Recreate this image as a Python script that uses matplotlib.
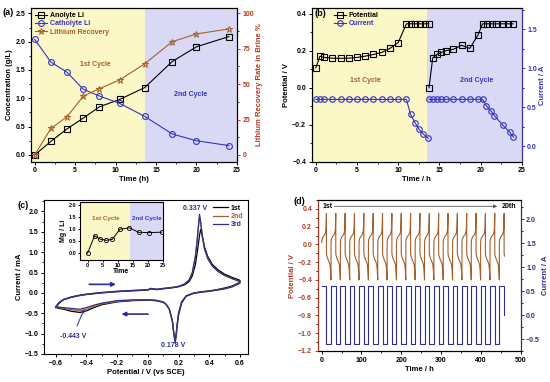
import matplotlib
matplotlib.use('Agg')
import matplotlib.pyplot as plt
from matplotlib.ticker import MultipleLocator, AutoMinorLocator

plt.rcParams['font.family'] = ['Liberation Sans', 'DejaVu Sans']
plt.rcParams['font.weight'] = 'bold'
plt.rcParams['axes.labelweight'] = 'bold'
plt.rcParams['axes.linewidth'] = 0.8
for ax_ in ('xtick', 'ytick'):
    plt.rcParams[ax_ + '.major.width'] = 0.7
    plt.rcParams[ax_ + '.minor.width'] = 0.6
    plt.rcParams[ax_ + '.major.size'] = 2.5
    plt.rcParams[ax_ + '.minor.size'] = 1.5
    plt.rcParams[ax_ + '.labelsize'] = 5
    plt.rcParams[ax_ + '.major.pad'] = 1.5
plt.rcParams['axes.labelsize'] = 5.5
plt.rcParams['axes.labelpad'] = 1.5

# ---------------- data (a) ----------------
t_a = [0, 2, 4, 6, 8, 10.5, 13.6, 17, 20, 24]
anolyte_li = [0.0, 0.24, 0.46, 0.65, 0.85, 0.98, 1.19, 1.65, 1.91, 2.09]
catholyte_li = [2.04, 1.64, 1.46, 1.16, 1.04, 0.91, 0.68, 0.37, 0.25, 0.165]
li_recovery = [0, 18.7, 27, 41.5, 46.8, 53, 64.4, 80, 85.5, 89]
split_a = 13.6

# ---------------- data (b) ----------------
t_pot1 = [0, 0.5, 1, 2, 3, 4, 5, 6, 7, 8, 9, 10, 11, 11.55, 12.1, 12.65, 13.2, 13.7]
pot1 = [0.108, 0.171, 0.164, 0.160, 0.159, 0.160, 0.164, 0.171, 0.180, 0.191,
        0.213, 0.244, 0.346, 0.346, 0.346, 0.346, 0.346, 0.346]
t_pot2 = [13.75, 14.2, 14.75, 15.25, 15.75, 16.7, 17.7, 18.7, 19.7, 20.25,
          20.8, 21.35, 21.85, 22.75, 23.35, 23.95]
pot2 = [0.0, 0.162, 0.182, 0.191, 0.200, 0.208, 0.230, 0.213, 0.286, 0.346,
        0.346, 0.346, 0.346, 0.346, 0.346, 0.346]
t_cur1 = [0, 0.5, 1, 2, 3, 4, 5, 6, 7, 8, 9, 10, 11, 11.5, 12.05, 12.5, 13.0, 13.65]
cur1 = [0.6, 0.6, 0.6, 0.6, 0.6, 0.6, 0.6, 0.6, 0.6, 0.6, 0.6, 0.6, 0.6,
        0.41, 0.30, 0.22, 0.16, 0.10]
t_cur2 = [13.75, 14.2, 14.75, 15.25, 15.75, 16.7, 17.7, 18.7, 19.7, 20.25,
          20.7, 21.25, 21.7, 22.7, 23.55, 24.0]
cur2 = [0.6, 0.6, 0.6, 0.6, 0.6, 0.6, 0.6, 0.6, 0.6, 0.6,
        0.52, 0.455, 0.39, 0.27, 0.18, 0.116]
split_b = 13.55

# ---------------- data (c) ----------------
v_fwd = [-0.60, -0.58, -0.55, -0.50, -0.45, -0.40, -0.30, -0.20, -0.10, 0.00,
         0.02, 0.04, 0.06, 0.10, 0.15, 0.20, 0.24, 0.27, 0.29, 0.31, 0.32, 0.33,
         0.337, 0.345, 0.355, 0.37, 0.39, 0.42, 0.46, 0.50, 0.55, 0.60]
i_fwd_1 = [-0.36, -0.26, -0.17, -0.11, -0.07, -0.04, 0.00, 0.03, 0.05, 0.07,
           0.10, 0.09, 0.08, 0.10, 0.12, 0.15, 0.20, 0.28, 0.42, 0.70, 0.95, 1.22,
           1.42, 1.56, 1.40, 1.12, 0.90, 0.70, 0.56, 0.46, 0.38, 0.31]
i_fwd_2 = [-0.34, -0.24, -0.16, -0.10, -0.06, -0.03, 0.01, 0.04, 0.06, 0.08,
           0.11, 0.10, 0.09, 0.11, 0.13, 0.16, 0.22, 0.32, 0.50, 0.88, 1.22, 1.62,
           1.88, 1.70, 1.38, 1.07, 0.85, 0.66, 0.52, 0.43, 0.35, 0.28]
i_fwd_3 = [-0.34, -0.24, -0.16, -0.10, -0.06, -0.03, 0.01, 0.04, 0.06, 0.08,
           0.11, 0.10, 0.09, 0.11, 0.13, 0.16, 0.22, 0.32, 0.50, 0.90, 1.25, 1.65,
           1.93, 1.72, 1.40, 1.08, 0.85, 0.66, 0.52, 0.43, 0.35, 0.28]
v_rev = [0.60, 0.55, 0.50, 0.45, 0.40, 0.35, 0.30, 0.25, 0.22, 0.20, 0.19, 0.185,
         0.178, 0.17, 0.16, 0.14, 0.12, 0.10, 0.05, 0.00, -0.10, -0.20, -0.30,
         -0.35, -0.40, -0.443, -0.50, -0.55, -0.58, -0.60]
i_rev_1 = [0.26, 0.17, 0.12, 0.08, 0.05, 0.03, 0.00, -0.07, -0.22, -0.50, -0.80, -1.00,
           -1.18, -1.00, -0.68, -0.40, -0.29, -0.23, -0.19, -0.18, -0.19, -0.22, -0.29,
           -0.36, -0.44, -0.48, -0.45, -0.40, -0.38, -0.36]
i_rev_2 = [0.24, 0.15, 0.10, 0.07, 0.04, 0.02, -0.01, -0.08, -0.25, -0.55, -0.85, -1.05,
           -1.22, -1.02, -0.70, -0.40, -0.28, -0.22, -0.18, -0.17, -0.18, -0.21, -0.27,
           -0.33, -0.40, -0.44, -0.41, -0.38, -0.36, -0.35]
i_rev_3 = [0.24, 0.15, 0.10, 0.07, 0.04, 0.02, -0.01, -0.08, -0.25, -0.55, -0.85, -1.05,
           -1.23, -1.02, -0.70, -0.40, -0.28, -0.22, -0.18, -0.17, -0.17, -0.19, -0.25,
           -0.30, -0.36, -0.40, -0.38, -0.36, -0.35, -0.34]
cv_labels = ['1st', '2nd', '3rd']
t_inset = [0, 2.3, 4.2, 6.2, 8.2, 10.7, 13.8, 17, 20.3, 24.5]
mg_li = [0.0, 0.73, 0.59, 0.54, 0.58, 1.0, 1.06, 0.87, 0.86, 0.88]
split_inset = 13.9

# ---------------- data (d) ----------------
cycle_starts = [0, 23.5, 47.0, 70.5, 94.0, 117.5, 141.0, 164.5, 188.0, 211.5,
                235.0, 258.5, 282.0, 305.5, 329.0, 352.5, 376.0, 399.5, 423.0, 446.5]
pot_t_off = [0.0, 1.0, 4.0, 8.0, 10.0, 11.0, 11.8, 12.0, 12.0, 13.0, 16.0, 19.0,
             21.0, 22.0, 23.0, 23.5]
pot_v = [0.02, 0.06, 0.09, 0.11, 0.14, 0.18, 0.30, 0.35, -0.10, -0.13, -0.17, -0.20,
         -0.23, -0.28, -0.36, -0.40]
cur_t_off = [0.0, 12.0, 12.0, 23.5]
cur_v = [0.6, 0.6, -0.6, -0.6]
n_last_pot = 10   # last cycle is cut after the first discharge step
last_cur_end = 0.0

YEL = '#fcf7c6'
LAV = '#d9d9f6'
BLUE = '#3434c0'
BROWN = '#a5602c'
RED = '#b03c28'
NAVY = '#2e2e8e'

fig = plt.figure(figsize=(5.5, 3.82), dpi=100)

# ================= (a) =================
ax = fig.add_axes([0.0558, 0.5767, 0.375, 0.4016])
ax.set_xlim(-0.5, 25)
ax.set_ylim(-0.12, 2.59)
ax.axvspan(-0.5, split_a, color=YEL, lw=0, zorder=0)
ax.axvspan(split_a, 25, color=LAV, lw=0, zorder=0)
l1, = ax.plot(t_a, anolyte_li, '-s', color='black', mfc='none', ms=3.8, lw=0.8, mew=0.8,
              label='Anolyte Li')
l2, = ax.plot(t_a, catholyte_li, '-o', color=BLUE, mfc='none', ms=4.2, lw=0.8, mew=0.8,
              label='Catholyte Li')
ax2 = ax.twinx()
ax2.set_ylim(-0.12 * 40, 2.59 * 40)
l3, = ax2.plot(t_a, li_recovery, '-*', color=BROWN, mfc='none', ms=5, lw=0.8, mew=0.7,
               label='Lithium Recovery')
ax.xaxis.set_major_locator(MultipleLocator(5))
ax.xaxis.set_minor_locator(AutoMinorLocator(2))
ax.yaxis.set_major_locator(MultipleLocator(0.5))
ax.yaxis.set_minor_locator(AutoMinorLocator(2))
ax2.yaxis.set_major_locator(MultipleLocator(25))
ax2.yaxis.set_minor_locator(AutoMinorLocator(2))
ax2.tick_params(axis='y', colors=RED)
ax.set_xlabel('Time (h)')
ax.set_ylabel('Concentration (g/L)')
ax2.set_ylabel('Lithium Recovery Rate in Brine %', color=RED)
leg = ax.legend(handles=[l1, l2, l3], loc='upper left', frameon=False, fontsize=5,
                handlelength=1.8, labelspacing=0.15, borderaxespad=0.2, handletextpad=0.4)
for txt, c in zip(leg.get_texts(), ['black', BLUE, BROWN]):
    txt.set_color(c)
ax.text(7.5, 1.6, '1st Cycle', color=BROWN, fontsize=5, ha='center', va='center')
ax.text(19.3, 1.07, '2nd Cycle', color=BLUE, fontsize=5, ha='center', va='center')
fig.text(0.004, 0.966, '(a)', fontsize=6.5, fontweight='bold', va='center')

# ================= (b) =================
bx = fig.add_axes([0.5667, 0.5767, 0.3818, 0.4016])
bx.set_xlim(-0.5, 25)
bx.set_ylim(-0.4, 0.43)
bx.axvspan(-0.5, split_b, color=YEL, lw=0, zorder=0)
bx.axvspan(split_b, 25, color=LAV, lw=0, zorder=0)
p1, = bx.plot(t_pot1, pot1, '-s', color='black', mfc='none', ms=3.8, lw=0.8, mew=0.8,
              label='Potential')
bx.plot(t_pot2, pot2, '-s', color='black', mfc='none', ms=3.8, lw=0.8, mew=0.8)
bx2 = bx.twinx()
bx2.set_ylim(-0.2, 1.77)
c1, = bx2.plot(t_cur1, cur1, '-o', color=BLUE, mfc='none', ms=4, lw=0.8, mew=0.8,
               label='Current')
bx2.plot(t_cur2, cur2, '-o', color=BLUE, mfc='none', ms=4, lw=0.8, mew=0.8)
bx.xaxis.set_major_locator(MultipleLocator(5))
bx.xaxis.set_minor_locator(AutoMinorLocator(2))
bx.yaxis.set_major_locator(MultipleLocator(0.2))
bx.yaxis.set_minor_locator(AutoMinorLocator(2))
bx2.yaxis.set_major_locator(MultipleLocator(0.5))
bx2.yaxis.set_minor_locator(AutoMinorLocator(2))
bx2.tick_params(axis='y', colors=BLUE)
bx2.spines['right'].set_color(BLUE)
bx.set_xlabel('Time / h')
bx.set_ylabel('Potential / V')
bx2.set_ylabel('Current / A', color=BLUE)
leg = bx.legend(handles=[p1, c1], loc='upper left', frameon=False, fontsize=5,
                handlelength=1.8, labelspacing=0.15, borderaxespad=0.2, handletextpad=0.4,
                bbox_to_anchor=(0.085, 1.0))
for txt, c in zip(leg.get_texts(), ['black', BLUE]):
    txt.set_color(c)
bx.text(6, 0.04, '1st Cycle', color=BROWN, fontsize=5, ha='center', va='center')
bx.text(19.5, 0.04, '2nd Cycle', color=BLUE, fontsize=5, ha='center', va='center')
bx.text(0.015, 0.965, '(b)', transform=bx.transAxes, fontsize=6.5, fontweight='bold',
        va='center')

# ================= (c) =================
cx = fig.add_axes([0.0805, 0.0733, 0.371, 0.403])
cx.set_xlim(-0.675, 0.655)
cx.set_ylim(-1.5, 2.28)
cv_colors = ['black', BROWN, NAVY]
for vf, ifw, irv, col, lab in zip([v_fwd] * 3, [i_fwd_1, i_fwd_2, i_fwd_3],
                                   [i_rev_1, i_rev_2, i_rev_3], cv_colors, cv_labels):
    cx.plot(list(vf) + list(v_rev), list(ifw) + list(irv), color=col, lw=0.9, label=lab)
cx.xaxis.set_major_locator(MultipleLocator(0.2))
cx.xaxis.set_minor_locator(AutoMinorLocator(2))
cx.yaxis.set_major_locator(MultipleLocator(0.5))
cx.yaxis.set_minor_locator(AutoMinorLocator(2))
cx.set_xlabel('Potential / V (vs SCE)')
cx.set_ylabel('Current / mA')
leg = cx.legend(loc='upper right', frameon=False, fontsize=5, handlelength=2.2,
                labelspacing=0.15, borderaxespad=0.3, handletextpad=0.4)
for txt, c in zip(leg.get_texts(), cv_colors):
    txt.set_color(c)
cx.text(0.307, 2.08, '0.337 V', color=NAVY, fontsize=5, ha='center', va='center')
cx.text(0.165, -1.3, '0.178 V', color=NAVY, fontsize=5, ha='center', va='center')
cx.annotate('-0.443 V', xy=(-0.415, -0.40), xytext=(-0.49, -1.06), color=NAVY, fontsize=5,
            ha='center', va='center',
            arrowprops=dict(arrowstyle='->', color=NAVY, lw=0.7, shrinkA=3, shrinkB=0))
cx.annotate('', xy=(-0.19, 0.21), xytext=(-0.40, 0.21),
            arrowprops=dict(arrowstyle='-|>', color=NAVY, lw=1.2, mutation_scale=6))
cx.annotate('', xy=(-0.19, -0.52), xytext=(0.02, -0.52),
            arrowprops=dict(arrowstyle='-|>', color=NAVY, lw=1.2, mutation_scale=6))
fig.text(0.031, 0.463, '(c)', fontsize=6.5, fontweight='bold', va='center')

ix = fig.add_axes([0.1455, 0.3194, 0.151, 0.152])
ix.set_xlim(-2.5, 25)
ix.set_ylim(-0.28, 2.14)
ix.axvspan(-2.5, split_inset, color=YEL, lw=0, zorder=0)
ix.axvspan(split_inset, 25, color=LAV, lw=0, zorder=0)
ix.plot(t_inset, mg_li, '-o', color='black', mfc='none', ms=3, lw=0.7, mew=0.6)
ix.xaxis.set_major_locator(MultipleLocator(5))
ix.yaxis.set_major_locator(MultipleLocator(0.5))
ix.tick_params(labelsize=4, length=1.5, pad=1)
ix.set_xlabel('Time', fontsize=5, labelpad=0)
ix.set_ylabel('Mg / Li', fontsize=5, labelpad=1)
ix.text(6.2, 1.45, '1st Cycle', color=BROWN, fontsize=4.5, ha='center', va='center')
ix.text(19.6, 1.45, '2nd Cycle', color=BLUE, fontsize=4.5, ha='center', va='center')

# ================= (d) =================
dx = fig.add_axes([0.5776, 0.0812, 0.369, 0.395])
dx.set_xlim(-10, 500)
dx.set_ylim(-1.2, 0.5)
dx2 = dx.twinx()
dx2.set_ylim(-0.75, 2.4)
pt, pv, ct, cv = [], [], [], []
for k, s in enumerate(cycle_starts):
    last = (k == len(cycle_starts) - 1)
    n = n_last_pot if last else len(pot_t_off)
    pt += [s + o for o in pot_t_off[:n]]
    pv += pot_v[:n]
    if last:
        ct += [s, s + cur_t_off[1], s + cur_t_off[1]]
        cv += [cur_v[0], cur_v[1], last_cur_end]
    else:
        ct += [s + o for o in cur_t_off]
        cv += cur_v
dx.plot(pt, pv, color=BROWN, lw=0.8)
dx2.plot(ct, cv, color=NAVY, lw=0.8)
dx.annotate('', xy=(448, 0.43), xytext=(25, 0.43),
            arrowprops=dict(arrowstyle='-|>', color='#555555', lw=0.6, mutation_scale=5))
dx.text(2, 0.43, '1st', fontsize=5, ha='left', va='center')
dx.text(452, 0.43, '20th', fontsize=5, ha='left', va='center')
dx.xaxis.set_major_locator(MultipleLocator(100))
dx.xaxis.set_minor_locator(AutoMinorLocator(2))
dx.yaxis.set_major_locator(MultipleLocator(0.2))
dx.yaxis.set_minor_locator(AutoMinorLocator(2))
dx2.yaxis.set_major_locator(MultipleLocator(0.5))
dx2.yaxis.set_minor_locator(AutoMinorLocator(2))
dx.tick_params(axis='y', colors=RED)
dx2.tick_params(axis='y', colors=NAVY)
dx2.spines['right'].set_color(NAVY)
dx2.spines['left'].set_color(RED)
dx.set_xlabel('Time / h')
dx.set_ylabel('Potential / V', color=RED)
dx2.set_ylabel('Current / A', color=NAVY)
fig.text(0.533, 0.472, '(d)', fontsize=6.5, fontweight='bold', va='center')

fig.savefig('out.png', dpi=100)
